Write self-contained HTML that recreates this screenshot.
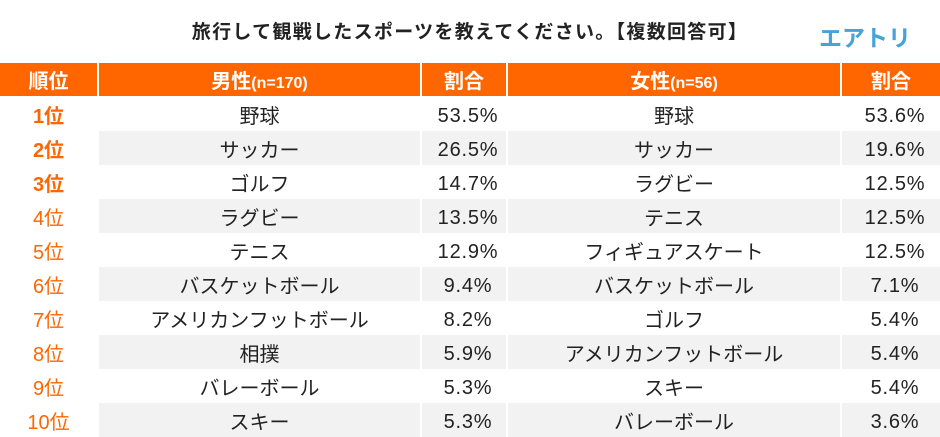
<!DOCTYPE html>
<html><head><meta charset="utf-8"><style>
body{margin:0;width:940px;height:437px;background:#fff;position:relative;overflow:hidden;font-family:"Liberation Sans","Noto Sans CJK JP",sans-serif;}
.title{position:absolute;left:0;width:940px;top:17px;text-align:center;font-size:19px;font-weight:bold;color:#222;letter-spacing:1.3px;}
.logo{position:absolute;left:819px;top:19px;font-size:23px;font-weight:bold;color:#45a3d9;}
table{position:absolute;left:0;top:63px;border-collapse:separate;border-spacing:2px 0;margin-left:-2px;width:944px;table-layout:fixed;}
th{background:#ff6600;color:#fff;height:33px;font-size:20px;font-weight:bold;padding:0;border-bottom:1px solid #fff}
th small{font-size:16px}
td{height:34px;padding:0;text-align:center;font-size:20px;color:#222;}
tr.g td{background:#f2f2f2}
tr.g td:first-child{background:#fff}
td:first-child{color:#ff6600}
td.b{font-weight:bold}
td.p{letter-spacing:0.8px;padding-left:8px;padding-top:4px;height:30px}
</style></head><body>
<div class="title">旅行して観戦したスポーツを教えてください。【複数回答可】</div>
<div class="logo">エアトリ</div>
<table>
<colgroup><col style="width:97px"><col style="width:321px"><col style="width:84px"><col style="width:332px"><col style="width:98px"></colgroup>
<tr><th>順位</th><th>男性<small>(n=170)</small></th><th>割合</th><th>女性<small>(n=56)</small></th><th>割合</th></tr>
<tr><td class="b">1位</td><td>野球</td><td class="p">53.5%</td><td>野球</td><td class="p">53.6%</td></tr>
<tr class="g"><td class="b">2位</td><td>サッカー</td><td class="p">26.5%</td><td>サッカー</td><td class="p">19.6%</td></tr>
<tr><td class="b">3位</td><td>ゴルフ</td><td class="p">14.7%</td><td>ラグビー</td><td class="p">12.5%</td></tr>
<tr class="g"><td>4位</td><td>ラグビー</td><td class="p">13.5%</td><td>テニス</td><td class="p">12.5%</td></tr>
<tr><td>5位</td><td>テニス</td><td class="p">12.9%</td><td>フィギュアスケート</td><td class="p">12.5%</td></tr>
<tr class="g"><td>6位</td><td>バスケットボール</td><td class="p">9.4%</td><td>バスケットボール</td><td class="p">7.1%</td></tr>
<tr><td>7位</td><td>アメリカンフットボール</td><td class="p">8.2%</td><td>ゴルフ</td><td class="p">5.4%</td></tr>
<tr class="g"><td>8位</td><td>相撲</td><td class="p">5.9%</td><td>アメリカンフットボール</td><td class="p">5.4%</td></tr>
<tr><td>9位</td><td>バレーボール</td><td class="p">5.3%</td><td>スキー</td><td class="p">5.4%</td></tr>
<tr class="g"><td>10位</td><td>スキー</td><td class="p">5.3%</td><td>バレーボール</td><td class="p">3.6%</td></tr>
</table>
</body></html>
